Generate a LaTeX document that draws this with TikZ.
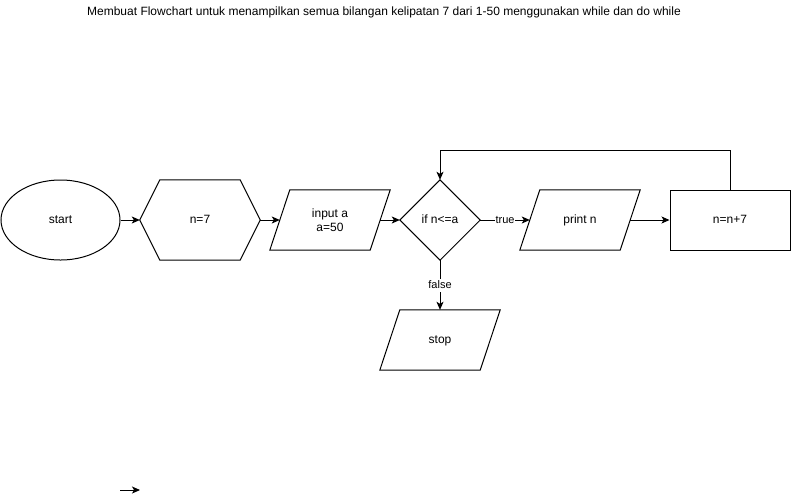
\documentclass[tikz,border=0pt]{standalone}
\usepackage{fontspec}
\setmainfont{Liberation Sans}
\usetikzlibrary{shapes.geometric,arrows.meta}
\tikzset{
  oneline/.style={text height=8.6pt,text depth=2.4pt},
  box/.style={draw=none,minimum width=#1,minimum height=60pt,inner sep=0pt,align=center},
  outline/.style={draw=black,line width=1pt,line join=miter},
  arr/.style={draw=black,line width=1pt,-{Stealth[length=8pt,width=7pt,inset=2pt]}},
  lbl/.style={fill=white,inner sep=1pt,oneline,font=\fontsize{11}{13}\selectfont}
}
\begin{document}
\begin{tikzpicture}[x=1pt,y=-1pt,font=\fontsize{12}{14}\selectfont]
\useasboundingbox (0,0) rectangle (791,499);
% title
\node[oneline] (title) at (384,12) {Membuat Flowchart untuk menampilkan semua bilangan kelipatan 7 dari 1-50 menggunakan while dan do while};
% start
\node[ellipse,draw,line width=1pt,minimum width=119pt,minimum height=80pt,inner sep=0pt,oneline] (start) at (60.5,220) {start};
% hexagon n=7
\node[draw=none,minimum width=120pt,minimum height=80pt,inner sep=0pt,oneline] (init) at (200,220) {n=7};
\draw[outline] (init.west) -- ([xshift=20pt]init.north west) -- ([xshift=-20pt]init.north east) -- (init.east) -- ([xshift=-20pt]init.south east) -- ([xshift=20pt]init.south west) -- cycle;
% input
\node[box=100pt] (inp) at (330,220) {input a\\a=50};
\draw[outline] ([xshift=10pt]inp.north west) -- ([xshift=10pt]inp.north east) -- ([xshift=-10pt]inp.south east) -- ([xshift=-10pt]inp.south west) -- cycle;
% decision
\node[draw=none,minimum width=80pt,minimum height=80pt,inner sep=0pt,oneline] (dia) at (440,220) {if n<=a};
\draw[outline] (dia.north) -- (dia.east) -- (dia.south) -- (dia.west) -- cycle;
% print
\node[box=100pt,oneline] (prn) at (580,220) {print n};
\draw[outline] ([xshift=10pt]prn.north west) -- ([xshift=10pt]prn.north east) -- ([xshift=-10pt]prn.south east) -- ([xshift=-10pt]prn.south west) -- cycle;
% update
\node[draw,line width=1pt,minimum width=120pt,minimum height=60pt,inner sep=0pt,oneline] (upd) at (730,220) {n=n+7};
% stop
\node[box=100pt,oneline] (stop) at (440,340) {stop};
\draw[outline] ([xshift=10pt]stop.north west) -- ([xshift=10pt]stop.north east) -- ([xshift=-10pt]stop.south east) -- ([xshift=-10pt]stop.south west) -- cycle;
% connectors
\draw[arr] (start.east) -- (init.west);
\draw[arr] (init.east) -- (inp.west);
\draw[arr] (inp.east) -- (dia.west);
\draw[arr] (dia.east) -- node[lbl] (tlab) {true} (prn.west);
\draw[arr] (prn.east) -- (upd.west);
\coordinate (loop) at (730,150);
\draw[arr] (upd.north) -- (loop) -| (dia.north);
\draw[arr] (dia.south) -- node[lbl] (flab) {false} (stop.north);
% stray arrow
\coordinate (s1) at (120,490);
\coordinate (s2) at (140,490);
\draw[arr] (s1) -- (s2);
\end{tikzpicture}
\end{document}
